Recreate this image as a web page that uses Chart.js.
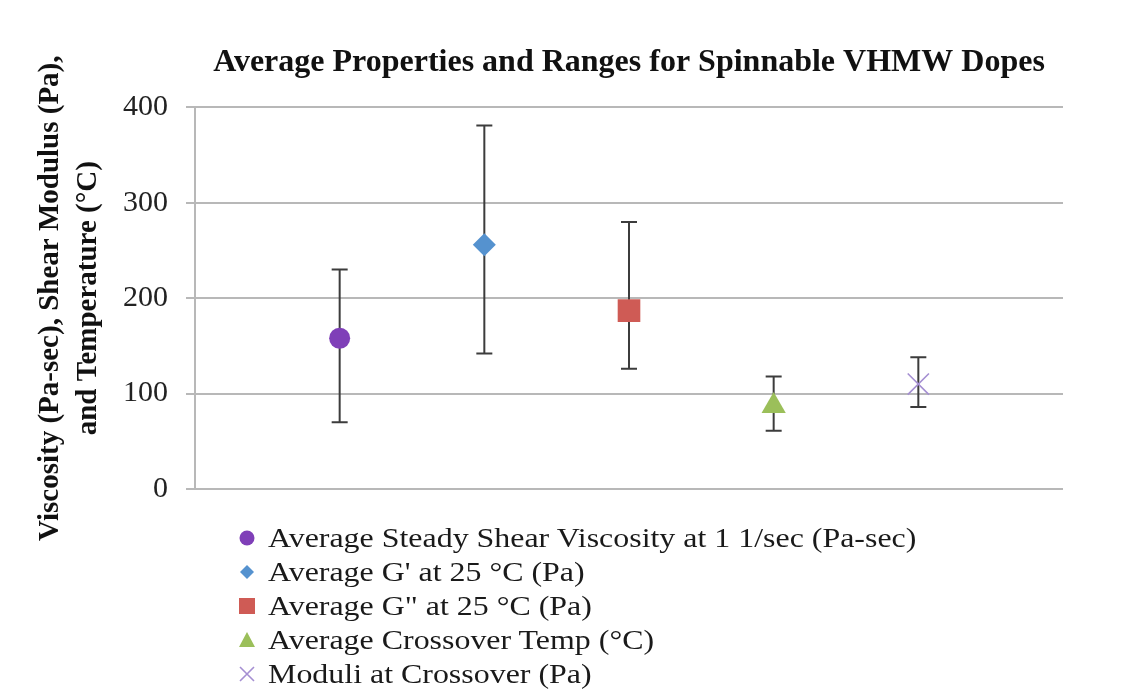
<!DOCTYPE html>
<html>
<head>
<meta charset="utf-8">
<script src="https://cdn.jsdelivr.net/npm/chart.js@4.4.1/dist/chart.umd.min.js"></script>
<style>
  html, body { margin: 0; padding: 0; background: #fff; }
  #wrap { position: relative; width: 1143px; height: 689px; }
  #legend { position: absolute; left: 236px; top: 521px; font-family: "Liberation Serif", "Times New Roman", serif; font-size: 28px; color: #1a1a1a; }
  #legend .row { height: 34px; line-height: 34px; white-space: nowrap; display: flex; align-items: center; }
  #legend svg { width: 22px; height: 22px; margin-right: 10px; flex: none; }
  #legend span { display: inline-block; transform: scaleX(1.14); transform-origin: left center; }
</style>
</head>
<body>
<div id="wrap">
  <canvas id="chart" width="1143" height="689"></canvas>
  <div id="legend"></div>
</div>
<script>
// data
const seriesLabels = [
  'Average Steady Shear Viscosity at 1 1/sec (Pa-sec)',
  "Average G' at 25 \u00b0C (Pa)",
  'Average G" at 25 \u00b0C (Pa)',
  'Average Crossover Temp (\u00b0C)',
  'Moduli at Crossover (Pa)'
];
const xPositions = [1, 2, 3, 4, 5];
const averages = [158, 256, 187, 87, 110];
const rangeHigh = [230, 381, 280, 118, 138];
const rangeLow = [70, 142, 126, 61, 86];
const yTicks = [0, 100, 200, 300, 400];

const colors = ['#7f3fb8', '#5592cf', '#cf5b55', '#9bbf5a', '#a58fd2'];
const shapes = ['circle', 'rectRot', 'rect', 'triangle', 'crossRot'];
const radii = [10.5, 11.5, 16, 14, 15];

const datasets = seriesLabels.map((label, i) => ({
  label: label,
  data: [{ x: xPositions[i], y: averages[i] }],
  pointStyle: shapes[i],
  pointRadius: radii[i],
  pointBackgroundColor: colors[i],
  pointBorderColor: colors[i],
  pointBorderWidth: shapes[i] === 'crossRot' ? 1.6 : 0,
  showLine: false
}));

// error bars, drawn under the markers
const errorBars = {
  id: 'errorBars',
  beforeDatasetsDraw(chart) {
    const ctx = chart.ctx;
    const xs = chart.scales.x, ys = chart.scales.y;
    ctx.save();
    ctx.strokeStyle = '#3c3c3c';
    ctx.lineWidth = 2;
    for (let i = 0; i < averages.length; i++) {
      const x = xs.getPixelForValue(xPositions[i]);
      const top = ys.getPixelForValue(rangeHigh[i]);
      const bot = ys.getPixelForValue(rangeLow[i]);
      ctx.beginPath();
      ctx.moveTo(x, top); ctx.lineTo(x, bot);
      ctx.moveTo(x - 8, top); ctx.lineTo(x + 8, top);
      ctx.moveTo(x - 8, bot); ctx.lineTo(x + 8, bot);
      ctx.stroke();
    }
    ctx.restore();
  }
};

const serif = '"Liberation Serif", "Times New Roman", serif';

new Chart(document.getElementById('chart'), {
  type: 'scatter',
  data: { datasets: datasets },
  options: {
    responsive: false,
    animation: false,
    layout: { padding: { top: 0, right: 80, bottom: 200, left: 0 } },
    plugins: {
      legend: { display: false },
      tooltip: { enabled: false },
      title: {
        display: true,
        fullSize: false,
        text: 'Average Properties and Ranges for Spinnable VHMW Dopes',
        color: '#111',
        font: { family: serif, size: 32, weight: 'bold' },
        padding: { top: 44, bottom: 25 }
      }
    },
    scales: {
      x: { type: 'linear', min: 0, max: 6, display: false },
      y: {
        min: 0, max: 400,
        afterBuildTicks(axis) { axis.ticks = yTicks.map(v => ({ value: v })); },
        afterFit(axis) { axis.width = 195; },
        ticks: { color: '#222', font: { family: serif, size: 30 }, padding: 18 },
        grid: { color: '#b8b8b8', lineWidth: 2, tickLength: 9 },
        border: { color: '#b8b8b8', width: 2 },
        title: {
          display: true,
          text: ['Viscosity (Pa-sec), Shear Modulus (Pa),', 'and Temperature (\u00b0C)'],
          color: '#111',
          font: { family: serif, size: 29, weight: 'bold', lineHeight: 1.3 },
          padding: { top: 32, bottom: 0 }
        }
      }
    }
  },
  plugins: [errorBars]
});

// html legend, one entry per row
const icons = [
  c => `<circle cx="11" cy="11" r="7.5" fill="${c}"/>`,
  c => `<polygon points="11,4 18,11 11,18 4,11" fill="${c}"/>`,
  c => `<rect x="3" y="3" width="16" height="16" fill="${c}"/>`,
  c => `<polygon points="11,3 19,18 3,18" fill="${c}"/>`,
  c => `<path d="M4,4 L18,18 M18,4 L4,18" stroke="${c}" stroke-width="1.6"/>`
];
const legend = document.getElementById('legend');
seriesLabels.forEach((label, i) => {
  const row = document.createElement('div');
  row.className = 'row';
  row.innerHTML = `<svg viewBox="0 0 22 22">${icons[i](colors[i])}</svg><span></span>`;
  row.querySelector('span').textContent = label;
  legend.appendChild(row);
});
</script>
</body>
</html>
